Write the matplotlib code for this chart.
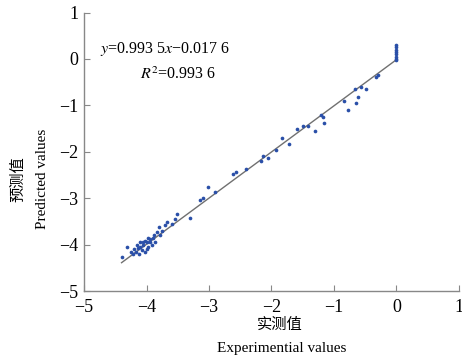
import matplotlib.pyplot as plt
import numpy as np

exp_vals = [0.0, 0.0, 0.0, 0.0, 0.0, 0.0, 0.0, 0.0,
            -0.30, -0.33, -0.49, -0.57, -0.62, -0.65, -0.66, -0.78, -0.84,
            -1.16, -1.18, -1.20, -1.30, -1.42, -1.50, -1.59, -1.72, -1.83,
            -1.93, -2.06, -2.13, -2.17, -2.41, -2.57, -2.62,
            -2.90, -3.01, -3.10, -3.14, -3.30, -3.51, -3.55, -3.60, -3.67, -3.70,
            -3.75, -3.78, -3.80, -3.84, -3.86, -3.88, -3.90, -3.92, -3.94,
            -3.95, -3.97, -3.98, -4.00, -4.00, -4.02, -4.03, -4.05, -4.06,
            -4.08, -4.10, -4.10, -4.12, -4.14, -4.15, -4.17, -4.20, -4.22,
            -4.25, -4.31, -4.39]
pred_vals = [0.30, 0.25, 0.20, 0.15, 0.10, 0.05, 0.00, -0.03,
             -0.35, -0.39, -0.65, -0.60, -0.82, -0.95, -0.65, -1.10, -0.90,
             -1.38, -1.25, -1.20, -1.55, -1.44, -1.44, -1.50, -1.83, -1.70,
             -1.96, -2.13, -2.09, -2.20, -2.37, -2.43, -2.48,
             -2.87, -2.76, -2.99, -3.04, -3.43, -3.34, -3.45, -3.55, -3.51, -3.58,
             -3.70, -3.80, -3.62, -3.73, -3.95, -3.80, -3.85, -4.00, -3.88,
             -3.95, -4.05, -3.85, -4.10, -3.95, -3.92, -4.15, -4.00, -3.95,
             -4.12, -4.05, -3.95, -4.20, -4.08, -4.00, -4.15, -4.10, -4.20,
             -4.15, -4.05, -4.27]

slope = 0.9935
intercept = -0.0176
fit_x = [-4.4, 0.0]

ticks = [-5, -4, -3, -2, -1, 0, 1]
tick_labels = ['\u22125', '\u22124', '\u22123', '\u22122', '\u22121', '0', '1']

serif = ['Liberation Serif', 'Noto Sans CJK SC']
plt.rcParams['font.family'] = serif
plt.rcParams['mathtext.fontset'] = 'stix'

fig = plt.figure(figsize=(4.62, 3.58), dpi=100)
ax = fig.add_axes([0.182, 0.187, 0.811, 0.778])

fx = np.array(fit_x)
ax.plot(fx, slope * fx + intercept, color='#707070', lw=1.0, zorder=1)
ax.scatter(exp_vals, pred_vals, s=7, color='#2a4fa8', lw=0, zorder=2)

ax.set_xlim(-5, 1)
ax.set_ylim(-5, 1)
ax.set_xticks(ticks)
ax.set_xticklabels(tick_labels)
ax.set_yticks(ticks)
ax.set_yticklabels(tick_labels)
ax.tick_params(direction='in', length=4, width=0.8, color='#888888',
               labelsize=13)
ax.tick_params(axis='x', pad=6)
ax.tick_params(axis='y', pad=4)
for s in ['top', 'right']:
    ax.spines[s].set_visible(False)
for s in ['left', 'bottom']:
    ax.spines[s].set_color('#888888')
    ax.spines[s].set_linewidth(1.0)

ax.text(-4.75, 0.22, '$y$=0.993 5$x$\u22120.017 6', fontsize=11.5, ha='left', va='center')
ax.text(-4.1, -0.35, '$R^2$=0.993 6', fontsize=11.5, ha='left', va='center')

fig.text(0.605, 0.092, '实测值', fontsize=11, ha='center', va='center', family=serif)
fig.text(0.61, 0.026, 'Experimential values', fontsize=11, ha='center', va='center')
fig.text(0.04, 0.50, '预测值', fontsize=11, ha='center', va='center', rotation=90, family=serif)
fig.text(0.092, 0.50, 'Predicted values', fontsize=11, ha='center', va='center', rotation=90)

fig.savefig('out.png', dpi=100)
